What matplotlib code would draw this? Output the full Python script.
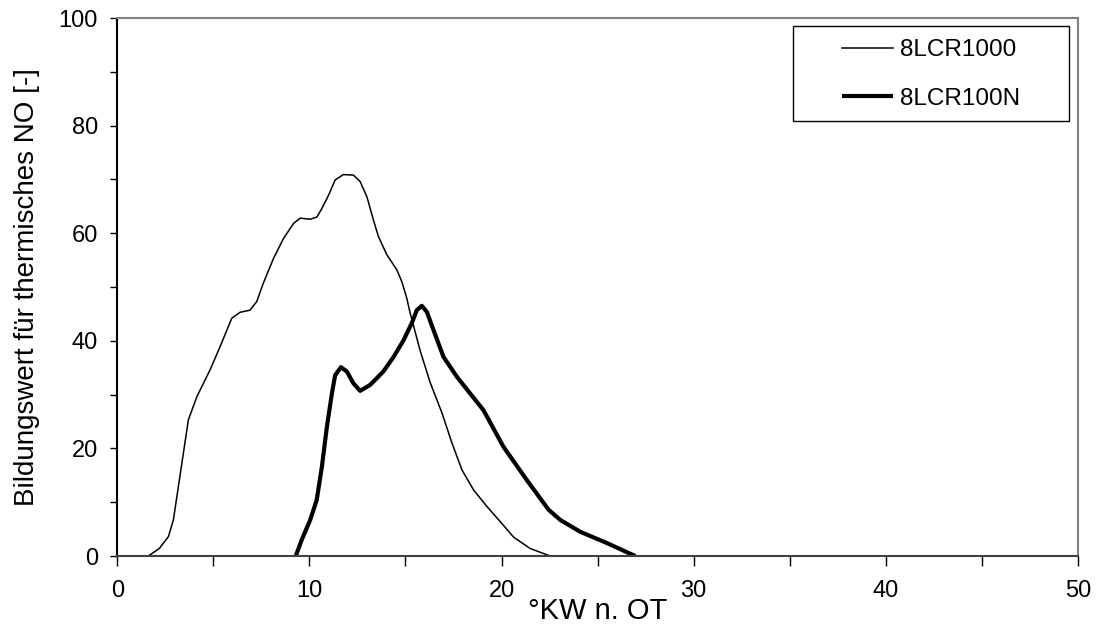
import matplotlib
matplotlib.use("Agg")
import matplotlib.pyplot as plt
import matplotlib.patches as patches
from matplotlib.ticker import MultipleLocator

plt.rcParams['font.family'] = ['Liberation Sans', 'DejaVu Sans']

# NO formation value over crank angle, two engine variants
kw_1000 = [1.61, 2.19, 2.66, 2.92, 3.18, 3.44, 3.70, 4.14, 4.83, 5.35, 5.96, 6.39,
           6.91, 7.26, 7.60, 8.13, 8.65, 9.17, 9.52, 10.04, 10.39, 10.65, 10.99,
           11.34, 11.77, 12.29, 12.64, 12.99, 13.33, 13.59, 14.03, 14.55, 14.81,
           15.07, 15.24, 15.77, 16.29, 16.90, 17.42, 17.94, 18.54, 19.24, 19.93,
           20.63, 21.49, 22.53]
no_1000 = [0.0, 1.4, 3.6, 6.7, 12.9, 19.1, 25.3, 29.6, 34.6, 38.9, 44.2, 45.3,
           45.7, 47.3, 50.7, 55.3, 59.0, 61.8, 62.8, 62.6, 63.0, 64.6, 67.0,
           69.9, 70.9, 70.8, 69.6, 66.8, 62.5, 59.4, 56.0, 53.2, 51.0,
           47.9, 45.2, 38.1, 32.2, 26.6, 21.0, 16.0, 12.3, 9.2, 6.4,
           3.5, 1.4, 0.0]

kw_100n = [9.29, 9.60, 10.04, 10.38, 10.65, 10.91, 11.17, 11.34, 11.64, 11.95,
           12.29, 12.64, 13.16, 13.85, 14.38, 14.90, 15.33, 15.59, 15.85, 16.11,
           16.46, 16.98, 17.68, 18.37, 19.06, 20.10, 21.32, 22.45, 23.06, 24.10,
           25.49, 26.96]
no_100n = [0.0, 3.0, 6.7, 10.4, 16.6, 24.0, 30.2, 33.6, 35.1, 34.3,
           32.1, 30.7, 31.8, 34.3, 37.0, 40.1, 43.3, 45.7, 46.5, 45.4,
           42.0, 37.0, 33.3, 30.2, 27.1, 20.3, 14.1, 8.6, 6.7, 4.5,
           2.4, 0.0]

fig = plt.figure(figsize=(10.96, 6.34), dpi=100)
ax = fig.add_axes([0.107, 0.123, 0.8765, 0.8486])

ax.plot(kw_1000, no_1000, color='black', lw=1.1, label='8LCR1000',
        solid_joinstyle='round')
ax.plot(kw_100n, no_100n, color='black', lw=3.0, label='8LCR100N',
        solid_capstyle='butt', solid_joinstyle='round')

ax.set_xlim(0, 50)
ax.set_ylim(0, 100)
ax.xaxis.set_major_locator(MultipleLocator(10))
ax.xaxis.set_minor_locator(MultipleLocator(5))
ax.yaxis.set_major_locator(MultipleLocator(20))
ax.yaxis.set_minor_locator(MultipleLocator(10))
ax.tick_params(which='both', direction='out', length=5, width=1, colors='black',
               labelsize=17, pad=9)
ax.tick_params(axis='x', which='both', length=7, pad=10)

ax.spines['left'].set_color('black')
ax.spines['bottom'].set_color('#404040')
ax.spines['top'].set_color('#808080')
ax.spines['right'].set_color('#808080')
for s in ax.spines.values():
    s.set_linewidth(1.5)

ax.set_xlabel('°KW n. OT', fontsize=21, labelpad=-3)
ax.set_ylabel('Bildungswert für thermisches NO [-]', fontsize=20, labelpad=13)

# legend box with generous side padding
box = patches.Rectangle((0.703, 0.8086), 0.288, 0.1764, transform=ax.transAxes,
                        fill=False, edgecolor='black', lw=1.0, zorder=5)
ax.add_patch(box)
ax.legend(loc='center', bbox_to_anchor=(0.847, 0.895), frameon=False,
          fontsize=17.5, handlelength=2.1, handletextpad=0.3, labelspacing=1.1,
          borderpad=0)

fig.savefig('out.png', dpi=100)
